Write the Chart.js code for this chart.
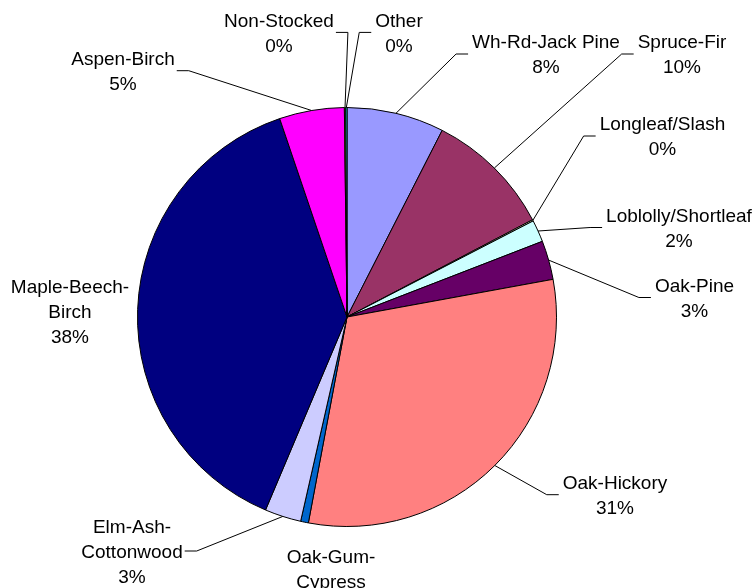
<!DOCTYPE html>
<html>
<head>
<meta charset="utf-8">
<script src="https://cdn.jsdelivr.net/npm/chart.js@4"></script>
<style>
  body { margin: 0; background: #fff; }
  #wrap { width: 754px; height: 588px; }
</style>
</head>
<body>
<div id="wrap"><canvas id="forest-chart" width="754" height="588"></canvas></div>
<script>
// forest type groups, clockwise from 12 o'clock (each label line on its own)
const forestTypes = [
    ['Wh-Rd-Jack Pine'],
    ['Spruce-Fir'],
    ['Longleaf/Slash'],
    ['Loblolly/Shortleaf'],
    ['Oak-Pine'],
    ['Oak-Hickory'],
    ['Oak-Gum-', 'Cypress'],
    ['Elm-Ash-', 'Cottonwood'],
    ['Maple-Beech-', 'Birch'],
    ['Aspen-Birch'],
    ['Non-Stocked'],
    ['Other']
]

// share of forest area, percent
const areaShare = [7.5, 9.8, 0.1, 1.7, 3.0, 30.8, 0.6, 2.8, 38.4, 5.0, 0.1, 0.1]

const sliceColors = [
    '#9999FF', '#993366', '#FFFFCC', '#CCFFFF', '#660066', '#FF8080',
    '#0066CC', '#CCCCFF', '#000080', '#FF00FF', '#FFFF00', '#00FFFF'
]

// where each label block sits (center x, center y) and whether it gets a leader line
const labelSpots = [
    [546, 54, true],
    [682, 54, true],
    [662.5, 136, true],
    [679, 227.5, true],
    [694.5, 297.5, true],
    [615, 494.7, true],
    [331, 581, false],
    [132, 551, true],
    [70, 311.5, false],
    [123, 70.7, true],
    [279, 32.4, true],
    [399, 32.4, true]
]

const total = areaShare.reduce((a, b) => a + b, 0)

// draws the leader lines and the name + percent labels
const pieLabels = {
    id: 'pieLabels',
    afterDatasetsDraw(chart) {
        const ctx = chart.ctx
        const arcs = chart.getDatasetMeta(0).data
        const lineH = 25
        ctx.save()
        ctx.font = '19px "Liberation Sans", Arial, sans-serif'
        ctx.fillStyle = '#000'
        ctx.strokeStyle = '#000'
        ctx.lineWidth = 1
        arcs.forEach((arc, i) => {
            const p = arc.getProps(['x', 'y', 'startAngle', 'endAngle', 'outerRadius'], true)
            const mid = (p.startAngle + p.endAngle) / 2
            const ax = p.x + Math.cos(mid) * p.outerRadius
            const ay = p.y + Math.sin(mid) * p.outerRadius

            const pct = Math.round(areaShare[i] / total * 100) + '%'
            const lines = forestTypes[i].concat([pct])
            const [cx, cy, leader] = labelSpots[i]
            const w = Math.max(...lines.map(t => ctx.measureText(t).width))

            if (leader) {
                let edge, elbow
                if (cx > ax) {
                    edge = cx - w / 2 - 4
                    elbow = edge - 12
                } else {
                    edge = cx + w / 2 + 2
                    elbow = edge + 12
                }
                ctx.beginPath()
                ctx.moveTo(ax, ay)
                ctx.lineTo(elbow, cy)
                ctx.lineTo(edge, cy)
                ctx.stroke()
            }

            ctx.textAlign = 'center'
            ctx.textBaseline = 'alphabetic'
            const firstY = cy - (lines.length - 1) * lineH / 2
            lines.forEach((t, k) => {
                ctx.fillText(t, cx, firstY + k * lineH + 6.8)
            })
        })
        ctx.restore()
    }
}

new Chart(document.querySelector('#forest-chart').getContext('2d'), {
    type: 'pie',
    data: {
        labels: forestTypes.map(t => t.join('')),
        datasets: [{
            data: areaShare,
            backgroundColor: sliceColors,
            borderColor: '#000',
            borderWidth: 1
        }]
    },
    options: {
        responsive: false,
        animation: false,
        layout: { padding: { left: 137, right: 197, top: 107, bottom: 61 } },
        plugins: {
            legend: { display: false },
            tooltip: { enabled: false }
        }
    },
    plugins: [pieLabels]
})
</script>
</body>
</html>
